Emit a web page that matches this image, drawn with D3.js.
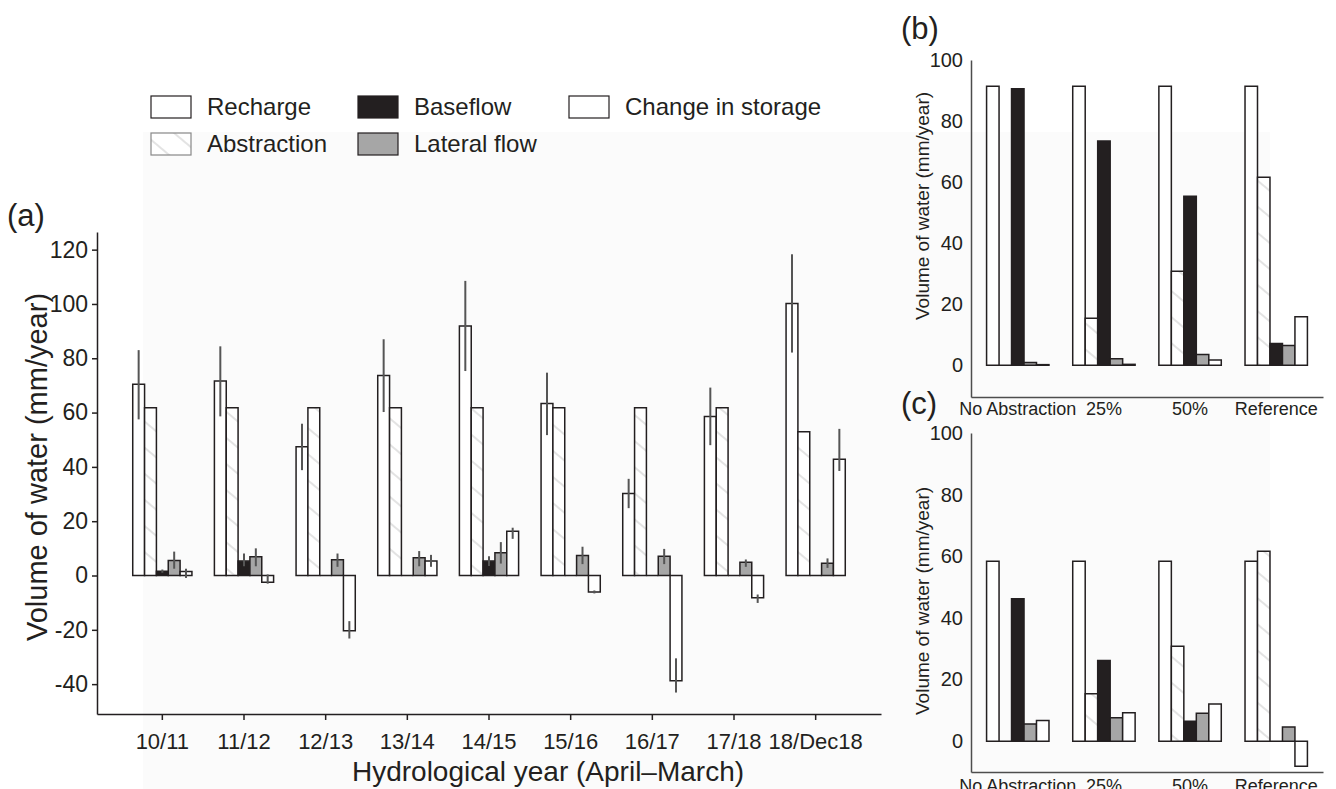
<!DOCTYPE html>
<html>
<head>
<meta charset="utf-8">
<script src="https://cdn.jsdelivr.net/npm/d3@7"></script>
<style>
body { margin: 0; background: #fff; }
svg { display: block; font-family: "Liberation Sans", Arial, sans-serif; }
text { fill: #231f20; }
</style>
</head>
<body>
<svg id="fig" width="1336" height="789"></svg>
<script>
// ---- data ----
const series = ["Recharge", "Abstraction", "Baseflow", "Lateral flow", "Change in storage"];

// panel (a): hydrological years
const years = ["10/11", "11/12", "12/13", "13/14", "14/15", "15/16", "16/17", "17/18", "18/Dec18"];
const aRecharge    = [70.4, 71.6, 47.4, 73.7, 91.9, 63.3, 30.2, 58.6, 100.2];
const aAbstraction = [61.8, 61.8, 61.8, 61.8, 61.8, 61.8, 61.8, 61.8, 52.9];
const aBaseflow    = [1.6, 5.3, 0, 0, 5.3, 0, 0, 0, 0];
const aLateral     = [5.5, 6.9, 5.8, 6.5, 8.4, 7.4, 7.1, 4.9, 4.5];
const aChange      = [1.5, -2.5, -20.3, 5.3, 16.3, -6.1, -38.8, -8.2, 42.8];

// error bars (low / high), null = none
const aRechargeLo = [57.5, 58.6, 38.8, 60.2, 75.3, 51.7, 24.8, 48.0, 82.1];
const aRechargeHi = [83.0, 84.4, 55.9, 87.0, 108.5, 74.7, 35.6, 69.2, 118.3];
const aBaseflowLo = [1.0, 3.4, null, null, 3.5, null, null, null, null];
const aBaseflowHi = [2.2, 8.1, null, null, 7.1, null, null, null, null];
const aLateralLo  = [2.5, 3.4, 3.2, 3.4, 4.4, 4.2, 4.2, 3.2, 2.8];
const aLateralHi  = [8.8, 10.0, 8.1, 9.0, 12.3, 10.6, 9.8, 5.9, 6.3];
const aChangeLo   = [-0.9, -3.0, -23.2, 3.2, 13.5, -6.6, -43.1, -10.1, 38.5];
const aChangeHi   = [2.5, 0.4, -16.8, 7.6, 17.6, -5.5, -30.5, -7.0, 54.0];
const aTicks = [-40, -20, 0, 20, 40, 60, 80, 100, 120];

// panels (b) and (c): scenarios
const scenarios = ["No Abstraction", "25%", "50%", "Reference"];
const bRecharge    = [91.4, 91.4, 91.4, 91.4];
const bAbstraction = [0, 15.4, 30.8, 61.6];
const bBaseflow    = [90.6, 73.5, 55.4, 7.1];
const bLateral     = [0.9, 2.1, 3.5, 6.5];
const bChange      = [0.2, 0.3, 1.7, 15.9];

const cRecharge    = [58.4, 58.4, 58.4, 58.4];
const cAbstraction = [0, 15.4, 30.8, 61.6];
const cBaseflow    = [46.2, 26.2, 6.5, 0];
const cLateral     = [5.6, 7.6, 9.1, 4.6];
const cChange      = [6.7, 9.2, 12.1, -8.1];
const bcTicks = [0, 20, 40, 60, 80, 100];

// ---- drawing ----
const ink = "#231f20";
const fills = ["#fff", "url(#hatch)", ink, "#a6a6a6", "#fff"];
const svg = d3.select("#fig");

const defs = svg.append("defs");
const pat = defs.append("pattern")
    .attr("id", "hatch")
    .attr("patternUnits", "userSpaceOnUse")
    .attr("width", 20).attr("height", 20)
    .attr("patternTransform", "rotate(40)");
pat.append("rect").attr("width", 20).attr("height", 20).attr("fill", "#fff");
pat.append("line")
    .attr("x1", 0).attr("y1", 10).attr("x2", 20).attr("y2", 10)
    .attr("stroke", "#dcdcdc").attr("stroke-width", 1.6);

// faint grey backdrop seen in the figure
svg.append("rect")
    .attr("x", 143).attr("y", 132)
    .attr("width", 1127).attr("height", 657)
    .attr("fill", "#fbfbfb");

function drawBars(g, cats, vals, x, sub, y) {
    vals.forEach((arr, k) => {
        g.append("g").selectAll("path")
            .data(arr)
            .enter()
            .append("path")
            .attr("fill", fills[k])
            .attr("stroke", ink)
            .attr("stroke-width", 1.5)
            .attr("d", (v, i) => {
                const x0 = x(cats[i]) + x.bandwidth() / 2 + sub(series[k]);
                const x1 = x0 + sub.bandwidth();
                return `M${x0},${y(0)}V${y(v)}H${x1}V${y(0)}Z`;
            });
    });
}

function drawErrors(g, cats, lows, highs, ks, x, sub, y) {
    ks.forEach((k, j) => {
        const pts = cats.map((c, i) => ({c, lo: lows[j][i], hi: highs[j][i]}))
            .filter(d => d.lo !== null);
        g.append("g").selectAll("line")
            .data(pts)
            .enter()
            .append("line")
            .attr("x1", d => x(d.c) + x.bandwidth() / 2 + sub(series[k]) + sub.bandwidth() / 2)
            .attr("x2", d => x(d.c) + x.bandwidth() / 2 + sub(series[k]) + sub.bandwidth() / 2)
            .attr("y1", d => y(d.lo))
            .attr("y2", d => y(d.hi))
            .attr("stroke", "#555")
            .attr("stroke-width", 2);
    });
}

function styleAxis(sel, color, size) {
    sel.selectAll("path, line").attr("stroke", color).attr("stroke-width", 1.5);
    sel.selectAll("text").attr("fill", ink).style("font-size", size + "px");
}

// ---------- panel (a) ----------
const xA = d3.scaleBand().domain(years).range([97, 881]).paddingInner(0).paddingOuter(0.3);
const subA = d3.scaleBand().domain(series).range([-29.6, 29.6]);
const yA = d3.scaleLinear().domain([-51, 126.5]).range([714, 232]);

const gA = svg.append("g");
drawBars(gA, years, [aRecharge, aAbstraction, aBaseflow, aLateral, aChange], xA, subA, yA);
drawErrors(gA, years,
    [aRechargeLo, aBaseflowLo, aLateralLo, aChangeLo],
    [aRechargeHi, aBaseflowHi, aLateralHi, aChangeHi],
    [0, 2, 3, 4], xA, subA, yA);

const axLA = svg.append("g")
    .attr("transform", "translate(97,0)")
    .call(d3.axisLeft(yA).tickValues(aTicks).tickFormat(d => String(d))
        .tickSize(5).tickSizeOuter(0).tickPadding(4));
styleAxis(axLA, ink, 23);

const axBA = svg.append("g")
    .attr("transform", "translate(0,714)")
    .call(d3.axisBottom(xA).tickSize(6).tickSizeOuter(0).tickPadding(13));
styleAxis(axBA, ink, 22);

svg.append("text")
    .attr("transform", "translate(37,467) rotate(-90)")
    .attr("text-anchor", "middle")
    .attr("dy", "0.35em")
    .style("font-size", "29px")
    .text("Volume of water (mm/year)");

svg.append("text")
    .attr("x", 548).attr("y", 781)
    .attr("text-anchor", "middle")
    .style("font-size", "28px")
    .text("Hydrological year (April\u2013March)");

svg.append("text")
    .attr("x", 7).attr("y", 226)
    .style("font-size", "31px")
    .text("(a)");

// legend
const legX = [151, 151, 358, 358, 569];
const legY = [96, 133, 96, 133, 96];
const leg = svg.append("g");
series.forEach((s, k) => {
    leg.append("rect")
        .attr("x", legX[k]).attr("y", legY[k])
        .attr("width", 40).attr("height", 22)
        .attr("fill", fills[k])
        .attr("stroke", k === 1 ? "#888" : ink)
        .attr("stroke-width", 1.2);
    leg.append("text")
        .attr("x", legX[k] + 56).attr("y", legY[k] + 11)
        .attr("dy", "0.35em")
        .style("font-size", "24px")
        .text(s);
});

// ---------- panels (b) and (c) ----------
const xBC = d3.scaleBand().domain(scenarios).range([971, 1323]).paddingInner(0).paddingOuter(0.043);
const subBC = d3.scaleBand().domain(series).range([-31.2, 31.2]);

function smallPanel(vals, y, label, labelY, titleY, tickPad) {
    const g = svg.append("g");
    drawBars(g, scenarios, vals, xBC, subBC, y);

    const axL = svg.append("g")
        .attr("transform", "translate(971,0)")
        .call(d3.axisLeft(y).tickValues(bcTicks).tickSize(0).tickSizeOuter(0).tickPadding(8));
    styleAxis(axL, "#4d4d4d", 20);

    const axB = svg.append("g")
        .attr("transform", `translate(0,${y.range()[0]})`)
        .call(d3.axisBottom(xBC).tickSize(0).tickSizeOuter(0).tickPadding(tickPad));
    styleAxis(axB, "#4d4d4d", 18);

    svg.append("text")
        .attr("transform", `translate(922,${titleY}) rotate(-90)`)
        .attr("text-anchor", "middle")
        .attr("dy", "0.35em")
        .style("font-size", "19px")
        .text("Volume of water (mm/year)");

    svg.append("text")
        .attr("x", 901).attr("y", labelY)
        .style("font-size", "31px")
        .text(label);
}

const yB = d3.scaleLinear().domain([-10.4, 100]).range([397, 60]);
smallPanel([bRecharge, bAbstraction, bBaseflow, bLateral, bChange], yB, "(b)", 39, 206, 5);

const yC = d3.scaleLinear().domain([-10, 100]).range([772, 433]);
smallPanel([cRecharge, cAbstraction, cBaseflow, cLateral, cChange], yC, "(c)", 414, 601, 7);
</script>
</body>
</html>
